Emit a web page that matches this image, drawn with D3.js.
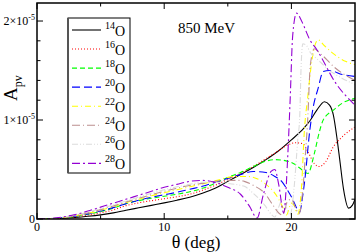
<!DOCTYPE html>
<html>
<head>
<meta charset="utf-8">
<script src="https://cdn.jsdelivr.net/npm/d3@7"></script>
<style>
  body { margin: 0; background: #fff; }
  text { font-family: "Liberation Serif", "DejaVu Serif", serif; }
</style>
</head>
<body>
<script>
// Asymmetry A_pv (in units of 1e-5) vs scattering angle theta (deg)
const isotopes = ["14", "16", "18", "20", "22", "24", "26", "28"];
const colors = ["#000000", "#ff0000", "#00ff00", "#0000ff", "#ffff00", "#bc8f8f", "#dcdcdc", "#9400d3"];
const dashes = [null, "1,2", "5,3", "8,4", "6,3,1,3", "8,3,1,3", "6,2,1,2,1,2", "8,3,2,3"];

const o14 = [[0,0],[1,0.002],[2,0.006],[3,0.015],[4,0.027],[5,0.042],[6,0.062],[7,0.088],[8,0.113],[9,0.138],[10,0.163],[11,0.19],[12,0.22],[13,0.26],[14,0.31],[15,0.38],[16,0.45],[17,0.52],[18,0.6],[19,0.69],[20,0.8],[21,0.92],[21.5,1.0],[22,1.1],[22.6,1.185],[23,1.15],[23.3,1.05],[23.6,0.8],[23.8,0.6],[24.1,0.3],[24.5,0.11],[24.8,0.14],[25,0.2]];
const o16 = [[0,0],[1,0.003],[2,0.01],[3,0.022],[4,0.04],[5,0.062],[6,0.092],[7,0.135],[8,0.163],[9,0.185],[10,0.205],[11,0.225],[12,0.25],[13,0.29],[14,0.34],[15,0.4],[16,0.46],[17,0.53],[18,0.61],[19,0.69],[19.6,0.74],[20.3,0.77],[20.9,0.76],[21.3,0.68],[21.8,0.56],[22.2,0.53],[22.7,0.58],[23.3,0.73],[24,0.83],[25,0.93]];
const o18 = [[0,0],[1,0.004],[2,0.012],[3,0.027],[4,0.048],[5,0.075],[6,0.11],[7,0.155],[8,0.185],[9,0.21],[10,0.23],[11,0.25],[12,0.275],[13,0.31],[14,0.36],[15,0.42],[16,0.47],[17,0.53],[17.9,0.58],[18.7,0.6],[19.5,0.59],[20.3,0.55],[20.8,0.5],[21.3,0.46],[21.8,0.66],[22.2,0.88],[22.5,1.0],[23.3,1.1],[24,1.17],[25,1.22]];
const o20 = [[0,0],[1,0.003],[2,0.012],[3,0.029],[4,0.052],[5,0.08],[6,0.115],[7,0.155],[8,0.19],[9,0.22],[10,0.245],[11,0.27],[12,0.3],[13,0.33],[14,0.37],[15,0.41],[16,0.45],[17,0.48],[18,0.47],[18.7,0.43],[19.3,0.37],[19.7,0.29],[20.1,0.2],[20.5,0.09],[20.66,0.07],[20.85,0.2],[21.05,0.39],[21.45,0.9],[21.7,1.12],[22.1,1.32],[22.5,1.49],[23,1.5],[24,1.46],[25,1.44]];
const o22 = [[0,0],[1,0.004],[2,0.014],[3,0.032],[4,0.057],[5,0.088],[6,0.125],[7,0.165],[8,0.2],[9,0.235],[10,0.265],[11,0.295],[12,0.325],[13,0.355],[14,0.385],[15,0.42],[15.5,0.43],[16.5,0.43],[17.9,0.36],[19,0.2],[19.35,0.11],[19.6,0.04],[20,0.16],[20.2,0.14],[20.5,0.05],[20.8,0.33],[21,0.85],[21.3,1.25],[21.6,1.59],[22.1,1.81],[22.6,1.75],[23.3,1.67],[24.3,1.59],[25,1.56]];
const o24 = [[0,0],[1,0.004],[2,0.015],[3,0.035],[4,0.062],[5,0.095],[6,0.132],[7,0.172],[8,0.21],[9,0.245],[10,0.28],[11,0.31],[12,0.34],[13,0.36],[14,0.38],[15,0.39],[16,0.39],[16.3,0.38],[17,0.34],[17.9,0.26],[18.5,0.15],[19.1,0.05],[19.3,0.04],[19.7,0.18],[20,0.2],[20.3,0.12],[20.6,0.05],[20.9,0.3],[21.1,0.65],[21.3,1.05],[21.45,1.49],[21.6,1.65],[21.8,1.72],[22.2,1.68],[23.5,1.52],[25,1.4]];
const o26 = [[0,0],[1,0.005],[2,0.017],[3,0.04],[4,0.07],[5,0.105],[6,0.143],[7,0.183],[8,0.222],[9,0.26],[10,0.295],[11,0.325],[12,0.35],[13,0.37],[14,0.37],[15,0.36],[16,0.34],[16.3,0.33],[17,0.26],[17.9,0.14],[18.4,0.05],[18.7,0.02],[19,0.12],[19.3,0.2],[19.6,0.12],[19.9,0.04],[20.2,0.3],[20.5,0.8],[20.66,1.05],[20.75,1.49],[20.9,1.77],[21.2,1.75],[21.5,1.68],[22,1.62],[23,1.5],[24,1.42],[25,1.36]];
const o28 = [[0,0],[1,0.005],[2,0.02],[3,0.045],[4,0.08],[5,0.12],[6,0.16],[7,0.2],[8,0.24],[9,0.28],[10,0.32],[11,0.35],[12,0.38],[13,0.39],[14,0.37],[15,0.32],[16,0.25],[16.7,0.13],[17.3,0.01],[17.8,0.25],[18.4,0.48],[18.7,0.5],[19,0.35],[19.4,0.06],[19.7,0.6],[19.9,1.2],[20.1,1.85],[20.4,2.08],[20.8,2.0],[21.45,1.81],[22,1.71],[23.5,1.37],[25,1.15]];
const series = [o14, o16, o18, o20, o22, o24, o26, o28];

const xTicks = [0, 10, 20];
const xMinor = [5, 15];
const yTicks = [0, 1, 2];
const yMinor = [0.2, 0.4, 0.6, 0.8, 1.2, 1.4, 1.6, 1.8];

const W = 357, H = 252;
const margin = { top: 3, right: 2, bottom: 33, left: 37 },
    width = W - margin.left - margin.right,
    height = H - margin.top - margin.bottom;

const svg = d3.select("body").append("svg")
    .attr("width", W)
    .attr("height", H);

const x = d3.scaleLinear().domain([0, 25]).range([margin.left, margin.left + width]);
const y = d3.scaleLinear().domain([0, 2.182]).range([margin.top + height, margin.top]);

svg.append("defs").append("clipPath").attr("id", "clip")
  .append("rect")
    .attr("x", margin.left).attr("y", margin.top)
    .attr("width", width).attr("height", height);

// curves
const line = d3.line()
    .x(d => x(d[0]))
    .y(d => y(d[1]))
    .curve(d3.curveMonotoneX);

const gLines = svg.append("g").attr("clip-path", "url(#clip)");
series.forEach((s, i) => {
  gLines.append("path")
    .datum(s)
    .attr("d", line)
    .attr("fill", "none")
    .attr("stroke", colors[i])
    .attr("stroke-width", 1.1)
    .attr("stroke-dasharray", dashes[i]);
});

// ticks, all pointing inward
const tickG = svg.append("g").attr("stroke", "#000").attr("stroke-width", 1);
const bottom = margin.top + height, right = margin.left + width;
xTicks.concat(xMinor).forEach(t => {
  const len = xTicks.includes(t) ? 6 : 3.5;
  tickG.append("line").attr("x1", x(t)).attr("x2", x(t)).attr("y1", bottom).attr("y2", bottom - len);
  tickG.append("line").attr("x1", x(t)).attr("x2", x(t)).attr("y1", margin.top).attr("y2", margin.top + len);
});
yTicks.concat(yMinor).forEach(t => {
  const len = yTicks.includes(t) ? 6 : 3.5;
  tickG.append("line").attr("y1", y(t)).attr("y2", y(t)).attr("x1", margin.left).attr("x2", margin.left + len);
  tickG.append("line").attr("y1", y(t)).attr("y2", y(t)).attr("x1", right).attr("x2", right - len);
});

// frame
svg.append("rect")
    .attr("x", margin.left).attr("y", margin.top)
    .attr("width", width).attr("height", height)
    .attr("fill", "none").attr("stroke", "#000").attr("stroke-width", 1.5);

// x tick labels
svg.selectAll(".xl").data(xTicks).enter().append("text")
    .attr("x", d => x(d)).attr("y", bottom + 12)
    .attr("text-anchor", "middle").attr("font-size", 12)
    .text(d => d);

// y tick labels
yTicks.forEach(t => {
  const txt = svg.append("text")
      .attr("x", margin.left - 2).attr("y", y(t) + 4)
      .attr("text-anchor", "end").attr("font-size", 12);
  if (t === 0) {
    txt.text("0");
  } else {
    txt.append("tspan").text(t + "×10");
    txt.append("tspan").attr("font-size", 8).attr("dy", -5).text("-5");
  }
});

// axis titles
const th = svg.append("text")
    .attr("x", 196).attr("y", 248)
    .attr("text-anchor", "middle").attr("font-size", 18);
th.append("tspan").text("θ");
th.append("tspan").attr("font-size", 17).text(" (deg)");

const ay = svg.append("text")
    .attr("transform", "translate(17,101) rotate(-90)")
    .attr("font-size", 19);
ay.append("tspan").text("A");
ay.append("tspan").attr("font-size", 12).attr("dy", 5).text("pv");

// energy label
svg.append("text")
    .attr("x", 178).attr("y", 33)
    .attr("font-size", 15)
    .text("850 MeV");

// legend
const lg = svg.append("g");
lg.append("rect")
    .attr("x", 68).attr("y", 18).attr("width", 62).attr("height", 155)
    .attr("fill", "#fff").attr("stroke", "#000").attr("stroke-width", 1);
lg.append("line")
    .attr("x1", 68).attr("x2", 68).attr("y1", 18).attr("y2", 173)
    .attr("stroke", "#555").attr("stroke-width", 2);

isotopes.forEach((iso, i) => {
  const ly = 30 + i * 19.05;
  lg.append("line")
      .attr("x1", 72).attr("x2", 101).attr("y1", ly).attr("y2", ly)
      .attr("stroke", colors[i]).attr("stroke-width", 1.1)
      .attr("stroke-dasharray", dashes[i]);
  const t = lg.append("text").attr("x", 105).attr("y", ly + 6).attr("font-size", 14);
  t.append("tspan").attr("font-size", 10).attr("dy", -7).text(iso);
  t.append("tspan").attr("dy", 7).text("O");
});
</script>
</body>
</html>
